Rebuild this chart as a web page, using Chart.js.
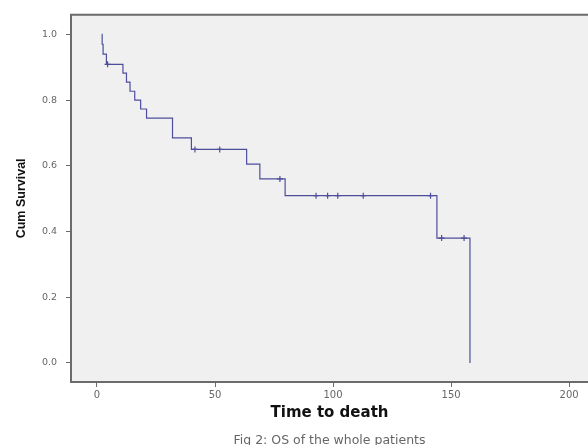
<!DOCTYPE html>
<html>
<head>
<meta charset="utf-8">
<script src="https://cdn.jsdelivr.net/npm/chart.js@4"></script>
<style>
  html, body { margin: 0; padding: 0; background: #ffffff; }
  #wrap { width: 588px; height: 445px; }
</style>
</head>
<body>
<div id="wrap"><canvas id="graficoSobrevida" width="588" height="445"></canvas></div>
<script>
// Kaplan-Meier: momentos dos eventos e sobrevida acumulada depois de cada um
const tempoEvento = [2, 2.2, 2.6, 4, 11, 12.5, 14, 16, 18.5, 21, 32, 40, 63.4, 69, 79.7, 144, 158];
const sobrevida   = [1.0, 0.97, 0.94, 0.909, 0.882, 0.855, 0.827, 0.8, 0.773, 0.745, 0.685, 0.65, 0.605, 0.56, 0.509, 0.38, 0.0];

// Casos censurados
const tempoCensura     = [4.5, 41.5, 52, 77.5, 92.8, 97.7, 102, 112.8, 141.3, 146, 155.5];
const sobrevidaCensura = [0.909, 0.65, 0.65, 0.56, 0.509, 0.509, 0.509, 0.509, 0.509, 0.38, 0.38];

const ticksX = [0, 50, 100, 150, 200];
const ticksY = [0.0, 0.2, 0.4, 0.6, 0.8, 1.0];

const corLinha = '#4d4d9c';
const corMoldura = '#6b6b6b';

// fundo cinza da área do gráfico e linha superior da moldura
const molduraPlot = {
  id: 'molduraPlot',
  beforeDraw(chart) {
    const { ctx, chartArea: a } = chart;
    ctx.save();
    ctx.fillStyle = '#f0f0f0';
    ctx.fillRect(a.left, a.top, a.right - a.left, a.bottom - a.top);
    ctx.restore();
  },
  afterDraw(chart) {
    const { ctx, chartArea: a } = chart;
    ctx.save();
    ctx.strokeStyle = corMoldura;
    ctx.lineWidth = 2;
    ctx.beginPath();
    ctx.moveTo(a.left - 1, a.top);
    ctx.lineTo(a.right, a.top);
    ctx.stroke();
    ctx.restore();
  }
};

new Chart(document.getElementById('graficoSobrevida'), {
  type: 'line',
  data: {
    datasets: [
      {
        label: 'Survival',
        data: tempoEvento.map((t, i) => ({ x: t, y: sobrevida[i] })),
        stepped: 'before',
        borderColor: corLinha,
        borderWidth: 1.2,
        pointRadius: 0,
        fill: false
      },
      {
        label: 'Censored',
        type: 'scatter',
        data: tempoCensura.map((t, i) => ({ x: t, y: sobrevidaCensura[i] })),
        pointStyle: 'cross',
        pointRadius: 3,
        borderColor: corLinha,
        borderWidth: 1.2,
        showLine: false
      }
    ]
  },
  options: {
    responsive: false,
    animation: false,
    layout: { autoPadding: false, padding: { top: 13, left: 0, right: 0, bottom: 0 } },
    plugins: {
      legend: { display: false },
      tooltip: { enabled: false },
      title: {
        display: true,
        position: 'bottom',
        fullSize: false,
        text: 'Fig 2: OS of the whole patients',
        color: '#666',
        font: { family: 'DejaVu Sans, sans-serif', size: 12.5, weight: 'normal' },
        padding: { top: 0, bottom: -3 }
      }
    },
    scales: {
      x: {
        type: 'linear',
        min: -11,
        max: 208,
        afterFit: s => { s.height = 51; s.paddingRight = 0; s.paddingLeft = 0; },
        afterBuildTicks: s => { s.ticks = ticksX.map(v => ({ value: v })); },
        ticks: {
          includeBounds: false,
          color: '#666',
          padding: 2,
          font: { family: 'DejaVu Sans, sans-serif', size: 10 }
        },
        grid: { drawOnChartArea: false, drawTicks: true, tickLength: 5, color: corMoldura },
        border: { display: true, color: corMoldura, width: 2 },
        title: {
          display: true,
          text: 'Time to death',
          color: '#111',
          font: { family: 'DejaVu Sans, sans-serif', size: 15, weight: 'bold' },
          padding: { top: 0, bottom: 11 }
        }
      },
      y: {
        min: -0.058,
        max: 1.06,
        afterFit: s => { s.width = 71; },
        afterBuildTicks: s => { s.ticks = ticksY.map(v => ({ value: v })); },
        ticks: {
          includeBounds: false,
          color: '#666',
          padding: 9,
          font: { family: 'DejaVu Sans, sans-serif', size: 9.5 },
          callback: v => Number(v).toFixed(1)
        },
        grid: { drawOnChartArea: false, drawTicks: true, tickLength: 5, color: corMoldura },
        border: { display: true, color: corMoldura, width: 2 },
        title: {
          display: true,
          text: 'Cum Survival',
          color: '#111',
          font: { family: 'Liberation Sans Narrow, Liberation Sans, Arial, sans-serif', size: 12.5, weight: 'bold' },
          padding: { top: 14, bottom: 0 }
        }
      }
    }
  },
  plugins: [molduraPlot]
});
</script>
</body>
</html>
